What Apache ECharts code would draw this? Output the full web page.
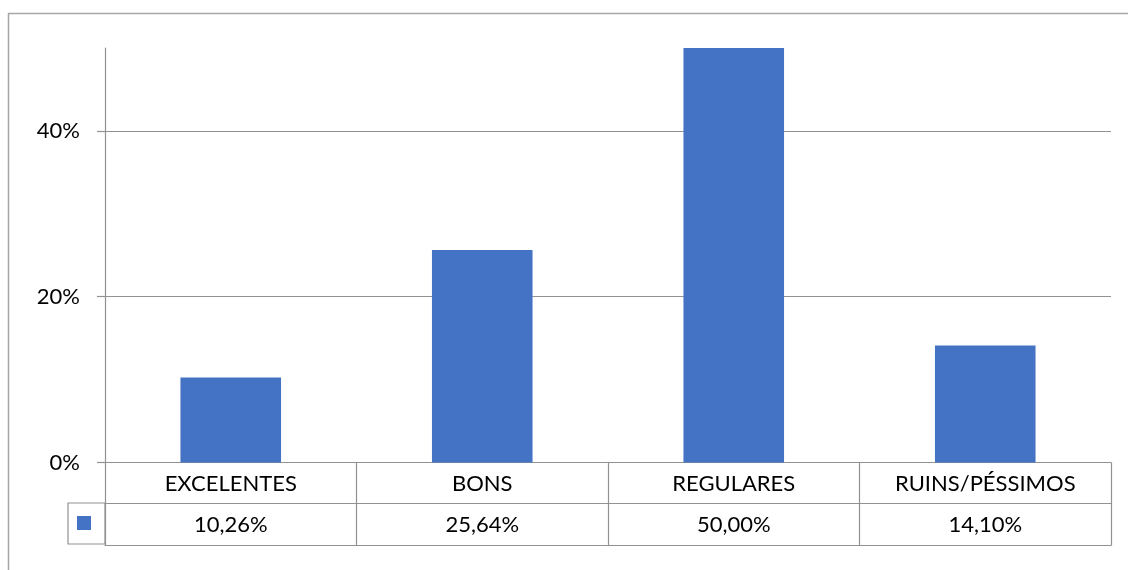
<!DOCTYPE html>
<html>
<head>
<meta charset="utf-8">
<script src="https://cdn.jsdelivr.net/npm/echarts@6/dist/echarts.min.js"></script>
<style>
html,body{margin:0;padding:0;background:#fff;}
#chart{width:1128px;height:570px;}
</style>
</head>
<body>
<div id="chart"></div>
<script>
const categories = ['EXCELENTES', 'BONS', 'REGULARES', 'RUINS/PÉSSIMOS'];
const values = [0.1026, 0.2564, 0.5000, 0.1410];
const yTicks = [0, 0.2, 0.4];

const FONT = 'Lato';
const LINE = '#929292';
const fmtPct = v => (v * 100).toFixed(2).replace('.', ',') + '%';

const chart = echarts.init(document.getElementById('chart'));
chart.setOption({
  animation: false,
  backgroundColor: '#fff',
  textStyle: { fontFamily: FONT },
  graphic: [{
    type: 'rect', silent: true, z: -1,
    shape: { x: 8.5, y: 13.5, width: 1300, height: 700 },
    style: { fill: 'none', stroke: '#a6a6a6', lineWidth: 1.5 }
  }],
  grid: { left: 105, right: 17, top: 48, bottom: 107.5, containLabel: false },
  legend: {
    data: ['Série'],
    left: 68, top: 503,
    icon: 'rect', itemWidth: 14, itemHeight: 14, itemGap: 0,
    formatter: () => '',
    padding: [13, 14, 14, 9],
    borderColor: LINE, borderWidth: 1.2,
    textStyle: { fontSize: 1 }
  },
  xAxis: [{
    type: 'category', data: categories, position: 'bottom',
    axisLine: { show: true, lineStyle: { color: LINE, width: 1.2 } },
    axisTick: { show: true, interval: 0, length: 83, lineStyle: { color: LINE, width: 1.2 } },
    axisLabel: { interval: 0, margin: 21, verticalAlign: 'middle', fontSize: 22, color: '#000', fontFamily: FONT }
  }, {
    type: 'category', data: categories, position: 'bottom', offset: 41,
    axisLine: { show: true, lineStyle: { color: LINE, width: 1.2 } },
    axisTick: { show: false },
    axisLabel: { interval: 0, margin: 21, verticalAlign: 'middle', fontSize: 22, color: '#000', fontFamily: FONT,
      formatter: (v, i) => fmtPct(values[i]) }
  }, {
    type: 'category', data: categories, position: 'bottom', offset: 83,
    axisLine: { show: true, lineStyle: { color: LINE, width: 1.2 } },
    axisTick: { show: false },
    axisLabel: { show: false }
  }],
  yAxis: {
    type: 'value', min: 0, max: 0.5, interval: 0.1,
    axisLine: { show: true, lineStyle: { color: LINE, width: 1.2 } },
    axisTick: { show: true, length: 8, customValues: yTicks, lineStyle: { color: LINE, width: 1.2 } },
    splitLine: { show: true, lineStyle: { color: LINE, width: 1.2 } },
    axisLabel: { customValues: yTicks, margin: 25, fontSize: 22, color: '#000', fontFamily: FONT,
      formatter: v => Math.round(v * 100) + '%' }
  },
  series: [{
    name: 'Série', type: 'bar', data: values, barWidth: '40%',
    itemStyle: { color: '#4472C4' }
  }]
});
</script>
</body>
</html>
